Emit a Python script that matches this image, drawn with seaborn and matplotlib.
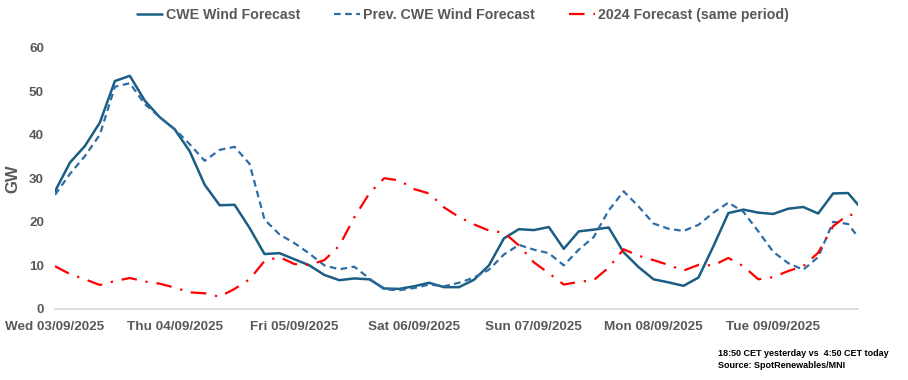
import numpy as np
import pandas as pd
import matplotlib.pyplot as plt
import seaborn as sns

# hours since Wed 03/09/2025 00:00, 3-hourly
hours = list(range(0, 160, 3)) + [161]

cwe = [27.0, 33.6, 37.4, 42.8, 52.3, 53.5, 47.8, 44.0, 41.2, 36.2,
       28.5, 23.8, 23.9, 18.6, 12.6, 12.8, 11.4, 10.0, 7.8, 6.6,
       7.0, 6.8, 4.7, 4.6, 5.2, 6.0, 5.0, 5.0, 6.7, 10.0,
       16.2, 18.3, 18.1, 18.8, 13.8, 17.8, 18.2, 18.7, 13.0, 9.6,
       6.8, 6.1, 5.3, 7.2, 14.4, 22.0, 22.8, 22.1, 21.8, 23.0,
       23.4, 21.9, 26.5, 26.6, 23.9]

prev = [26.2, 31.0, 35.1, 40.0, 51.0, 51.8, 47.0, 44.0, 41.3, 37.8,
        34.0, 36.5, 37.2, 33.3, 20.5, 17.1, 15.1, 12.7, 10.0, 9.1,
        9.7, 7.0, 4.5, 4.3, 4.8, 5.6, 5.2, 6.0, 7.2, 9.0,
        12.5, 14.7, 13.6, 12.8, 10.0, 13.6, 16.5, 22.6, 27.0, 23.5,
        19.6, 18.4, 17.9, 19.3, 22.1, 24.4, 22.3, 17.8, 13.1, 10.5,
        9.0, 11.9, 20.0, 19.5, 16.5]

last_year = [9.8, 8.0, 6.8, 5.5, 6.4, 7.1, 6.3, 5.8, 4.9, 3.8,
             3.6, 2.8, 4.6, 6.8, 11.0, 11.9, 10.3, 10.1, 11.2, 14.5,
             21.0, 26.5, 30.0, 29.5, 27.5, 26.5, 23.3, 21.1, 19.4, 18.0,
             17.5, 14.6, 10.7, 8.2, 5.6, 6.2, 6.6, 9.5, 13.7, 12.2,
             11.2, 10.1, 8.8, 10.1, 10.0, 11.7, 9.8, 6.8, 7.3, 8.7,
             9.8, 12.9, 19.0, 21.6, 21.6]

day_labels = ["Wed 03/09/2025", "Thu 04/09/2025", "Fri 05/09/2025",
              "Sat 06/09/2025", "Sun 07/09/2025", "Mon 08/09/2025",
              "Tue 09/09/2025"]

df = pd.DataFrame({"hour": hours, "cwe": cwe, "prev": prev, "ly": last_year})

sns.set_theme(style="white")
plt.rcParams['font.family'] = ['Liberation Sans', 'DejaVu Sans']

grey = "#595959"
fig = plt.figure(figsize=(9.08, 3.8), dpi=100)
ax = fig.add_axes([0.0606, 0.187, 0.8844, 0.688])

sns.lineplot(data=df, x="hour", y="cwe", ax=ax, color="#1b5e83", lw=1.8,
             label="CWE Wind Forecast")
sns.lineplot(data=df, x="hour", y="prev", ax=ax, color="#2e6da4", lw=1.6,
             label="Prev. CWE Wind Forecast")
ax.lines[-1].set_dashes((3, 2))
sns.lineplot(data=df, x="hour", y="ly", ax=ax, color="#ff0000", lw=1.6,
             label="2024 Forecast (same period)")
ax.lines[-1].set_dashes((7, 4, 1, 4))

ax.set_xlim(0, 161)
ax.set_ylim(0, 60)
ax.set_yticks(range(0, 61, 10))
ax.set_xticks(range(0, 145, 24))
ax.set_xticklabels(day_labels)
ax.tick_params(axis='both', length=0, labelsize=9.7, labelcolor=grey)
ax.tick_params(axis='x', pad=9)
ax.tick_params(axis='y', pad=8)
for t in ax.get_xticklabels() + ax.get_yticklabels():
    t.set_fontweight('bold')
ax.set_xlabel("")
ax.set_ylabel("GW", fontsize=12, fontweight='bold', color=grey)
ax.yaxis.set_label_coords(-0.043, 0.5)

for s in ["left", "right", "top"]:
    ax.spines[s].set_visible(False)
ax.spines["bottom"].set_color("#d9d9d9")
ax.grid(False)

leg = ax.legend(loc="center", bbox_to_anchor=(0.508, 1.125), ncol=3,
                frameon=False, fontsize=10.2, handlelength=1.8, columnspacing=2.4,
                handletextpad=0.25, borderpad=0)
for t in leg.get_texts():
    t.set_color(grey)
    t.set_fontweight('bold')

fig.text(0.791, 0.027, "18:50 CET yesterday vs  4:50 CET today\nSource: SpotRenewables/MNI",
         fontsize=6.5, fontweight='bold', color="black", va="bottom", linespacing=1.4)

plt.savefig("out.png", dpi=100)
